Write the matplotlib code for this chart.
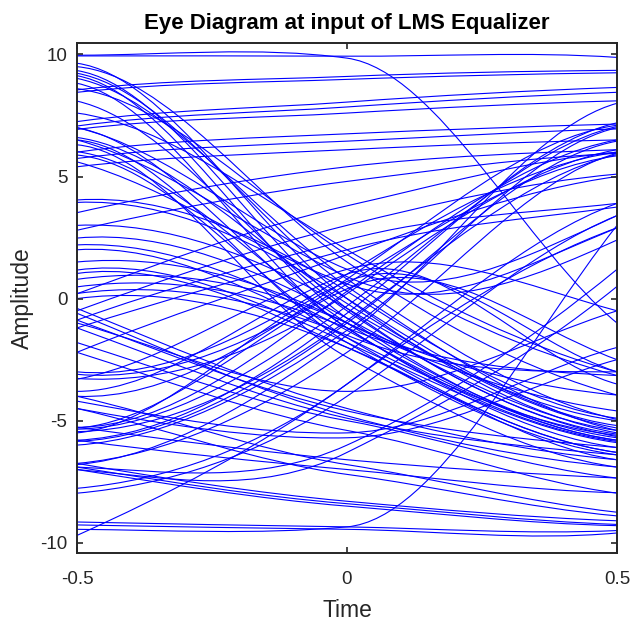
import matplotlib
matplotlib.use("Agg")
import matplotlib.pyplot as plt
from matplotlib.path import Path
from matplotlib.patches import PathPatch

# Each trace: (y at -0.5, slope at -0.5, y at 0, slope at 0, y at 0.5, slope at 0.5)
high_hold = [
    (9.94, 0.0, 9.93, -0.1, 9.88, -1.5),
    (8.55, 2.6, 9.10, 0.9, 9.35, 0.2),
    (8.45, 2.4, 8.98, 0.8, 9.25, 0.3),
    (7.25, 3.0, 8.05, 1.6, 8.65, 0.8),
    (7.07, 3.0, 7.85, 1.5, 8.45, 0.8),
    (6.93, 2.8, 7.60, 1.3, 8.10, 0.6),
    (6.00, 3.0, 6.75, 1.0, 7.15, 0.6),
    (5.74, 2.8, 6.45, 1.0, 6.95, 0.6),
    (5.40, 2.6, 6.10, 1.1, 6.50, 0.5),
    (3.52, 5.0, 5.40, 2.6, 6.10, 0.8),
    (2.80, 5.0, 4.80, 2.8, 5.95, 1.0),
]

high_fall = [
    (9.97, 0.0, 9.85, -3.0, -1.00, -18.0),
    (9.64, -3.0, 0.0, -16.0, -5.50, -4.0),
    (9.50, -2.0, 1.5, -15.0, -3.95, -6.0),
    (9.34, -3.5, -0.4, -16.0, -5.65, -4.0),
    (9.23, -4.0, 0.5, -15.0, -5.40, -5.0),
    (9.13, -4.0, -0.8, -15.0, -5.80, -3.0),
    (9.02, -4.5, 0.8, -15.0, -4.95, -5.0),
    (8.82, -4.5, -1.2, -14.0, -6.10, -3.0),
    (8.60, -3.0, 1.8, -14.0, -3.15, -6.0),
    (8.09, -5.0, -0.5, -15.0, -5.55, -3.0),
    (7.60, -3.0, 2.0, -13.0, -3.00, -6.0),
    (7.00, -4.0, -1.2, -14.0, -5.85, -3.0),
    (6.60, -3.0, -0.2, -14.0, -5.30, -4.0),
    (6.50, -2.0, -1.8, -13.0, -6.40, -3.0),
    (6.30, -2.0, -2.4, -12.0, -6.90, -3.0),
    (6.02, -3.0, -1.0, -14.0, -5.70, -3.0),
    (5.88, -2.0, -1.6, -13.0, -6.30, -3.0),
]

low_rise = [
    (-3.00, -2.0, 1.0, 14.0, 6.00, 3.0),
    (-3.10, -2.0, 0.6, 14.0, 5.85, 3.0),
    (-3.27, -1.5, 0.2, 15.0, 6.10, 4.0),
    (-4.00, -1.0, 0.8, 15.0, 7.10, 3.0),
    (-5.27, 0.0, 0.3, 16.0, 6.50, 4.0),
    (-5.35, 0.5, -0.3, 16.0, 7.05, 5.0),
    (-5.45, 0.5, -0.9, 16.0, 5.90, 5.0),
    (-5.80, 1.0, -0.6, 17.0, 7.20, 5.0),
    (-5.85, 1.0, -1.0, 16.0, 6.45, 4.0),
    (-6.00, 1.5, -1.3, 15.0, 7.00, 5.0),
    (-6.75, 2.0, -2.2, 15.0, 5.95, 6.0),
    (-6.80, 2.0, -1.5, 16.0, 8.00, 6.0),
    (-7.77, 2.0, -3.5, 16.0, 3.90, 8.0),
    (-7.97, 2.0, -4.0, 15.0, 3.40, 9.0),
    (-9.70, 10.0, -3.5, 16.0, 2.90, 8.0),
    (-6.90, -1.0, -6.0, 10.0, 1.20, 18.0),
    (-7.00, -2.0, -6.3, 11.0, 0.50, 18.0),
    (-9.45, -0.2, -9.35, 2.0, 3.00, 28.0),
]

low_hold = [
    (-9.15, -0.5, -9.35, -0.4, -9.50, 1.0),
    (-9.27, -0.4, -9.45, -0.3, -9.60, 2.0),
    (-6.75, -3.8, -8.30, -2.0, -9.10, -0.8),
    (-6.90, -3.5, -8.40, -1.8, -9.25, -0.8),
    (-7.00, -3.5, -8.50, -1.8, -9.30, -0.5),
    (-5.80, -3.0, -7.00, -2.0, -7.95, -0.5),
    (-5.27, -3.0, -6.60, -2.0, -7.35, -1.0),
]

mid_fall = [
    (-0.40, -9.0, -4.5, -6.0, -6.60, -2.0),
    (-0.60, -9.0, -4.8, -6.0, -6.90, -2.0),
    (-0.88, -8.0, -4.6, -5.0, -6.10, -2.0),
    (-1.20, -8.0, -4.9, -5.0, -6.40, -2.0),
    (-1.80, -7.0, -5.0, -4.0, -7.35, -2.5),
    (-2.20, -7.0, -5.4, -4.0, -7.97, -3.0),
    (-4.00, -5.0, -6.8, -3.5, -8.75, -2.5),
    (-4.50, -5.0, -7.2, -3.0, -8.90, -2.0),
    (4.04, 1.5, 0.3, -14.0, -4.90, -3.0),
    (3.94, 1.0, 0.0, -14.0, -5.20, -3.0),
    (3.00, 1.0, -0.4, -13.0, -5.00, -3.0),
    (2.48, 2.0, -0.8, -12.0, -5.40, -3.0),
    (2.20, 1.0, -1.3, -12.0, -5.80, -3.0),
    (2.00, 1.5, -1.6, -11.0, -5.60, -2.5),
    (1.50, 2.0, -1.0, -11.0, -4.60, -3.0),
    (1.17, 3.0, -1.8, -10.0, -5.90, -3.0),
    (1.03, 3.0, -2.0, -10.0, -6.30, -3.0),
    (0.79, 3.0, -1.0, -10.0, -3.95, -2.0),
    (0.48, 3.0, -1.2, -9.0, -3.15, -1.0),
    (0.21, 3.0, -1.5, -9.0, -3.00, 0.0),
    (0.00, 3.0, -2.0, -9.0, -6.60, -3.0),
]

mid_swing = [
    (0.20, 8.0, 3.8, 5.0, 6.00, 2.0),
    (-0.50, 8.0, 3.0, 5.5, 5.10, 2.0),
    (-0.88, 8.0, 2.4, 6.0, 3.90, 2.5),
    (-1.20, 7.0, 2.0, 6.0, 3.75, 3.0),
    (-2.20, 9.0, 1.8, 8.0, 5.00, 3.0),
    (6.50, -6.0, 0.9, -10.0, 2.40, 10.0),
    (7.00, -5.0, 1.2, -9.0, 3.40, 10.0),
    (5.60, -6.0, 0.6, -8.0, 2.90, 9.0),
    (-5.50, 2.0, 0.7, 9.0, -3.00, -7.0),
    (-5.30, 1.5, 0.4, 10.0, -2.50, -8.0),
    (-3.80, 0.0, 1.0, 8.0, -3.50, -6.0),
    (-3.30, 4.0, 1.2, 6.0, -0.50, -6.0),
    (-4.20, -4.0, -5.5, 0.5, -2.00, 6.0),
    (-4.50, -4.0, -5.7, 0.5, -2.50, 6.0),
    (-1.00, -6.0, -3.8, 0.0, -0.50, 7.0),
]

t_left, t_mid, t_right = -0.5, 0.0, 0.5


def trace_path(y0, s0, ym, sm, y1, s1):
    # two cubic pieces, handles placed a third of the way along each half
    h = (t_mid - t_left) / 3.0
    verts = [
        (t_left, y0),
        (t_left + h, y0 + s0 * h), (t_mid - h, ym - sm * h), (t_mid, ym),
        (t_mid + h, ym + sm * h), (t_right - h, y1 - s1 * h), (t_right, y1),
    ]
    codes = [Path.MOVETO] + [Path.CURVE4] * 6
    return Path(verts, codes)


fig = plt.figure(figsize=(6.32, 6.25), dpi=100)
ax = fig.add_axes([0.1218, 0.1152, 0.8545, 0.816])

for family in (high_hold, high_fall, low_rise, low_hold, mid_fall, mid_swing):
    for tr in family:
        ax.add_patch(PathPatch(trace_path(*tr), fill=False, edgecolor=(0, 0, 1),
                               linewidth=0.8))

ax.set_xlim(-0.5, 0.5)
ax.set_ylim(-10.42, 10.47)
ax.set_xticks([-0.5, 0, 0.5])
ax.set_xticklabels(["-0.5", "0", "0.5"])
ax.set_yticks([-10, -5, 0, 5, 10])
ax.set_yticklabels(["-10", "-5", "0", "5", "10"])

font = "Liberation Sans"
grey = "#262626"
for sp in ax.spines.values():
    sp.set_color(grey)
    sp.set_linewidth(1.4)
ax.tick_params(direction="in", length=4, width=1.2, color=grey, labelcolor=grey,
               labelsize=13.5, top=True, right=True)
ax.tick_params(axis="x", pad=13)
ax.tick_params(axis="y", pad=7)
for lab in ax.get_xticklabels() + ax.get_yticklabels():
    lab.set_family(font)

ax.set_xlabel("Time", fontsize=16.5, color=grey, family=font, labelpad=8)
ax.set_ylabel("Amplitude", fontsize=16.5, color=grey, family=font, labelpad=4)
ax.set_title("Eye Diagram at input of LMS Equalizer", fontsize=16, fontweight="bold",
             family=font, pad=10)

fig.savefig("out.png", dpi=100)
